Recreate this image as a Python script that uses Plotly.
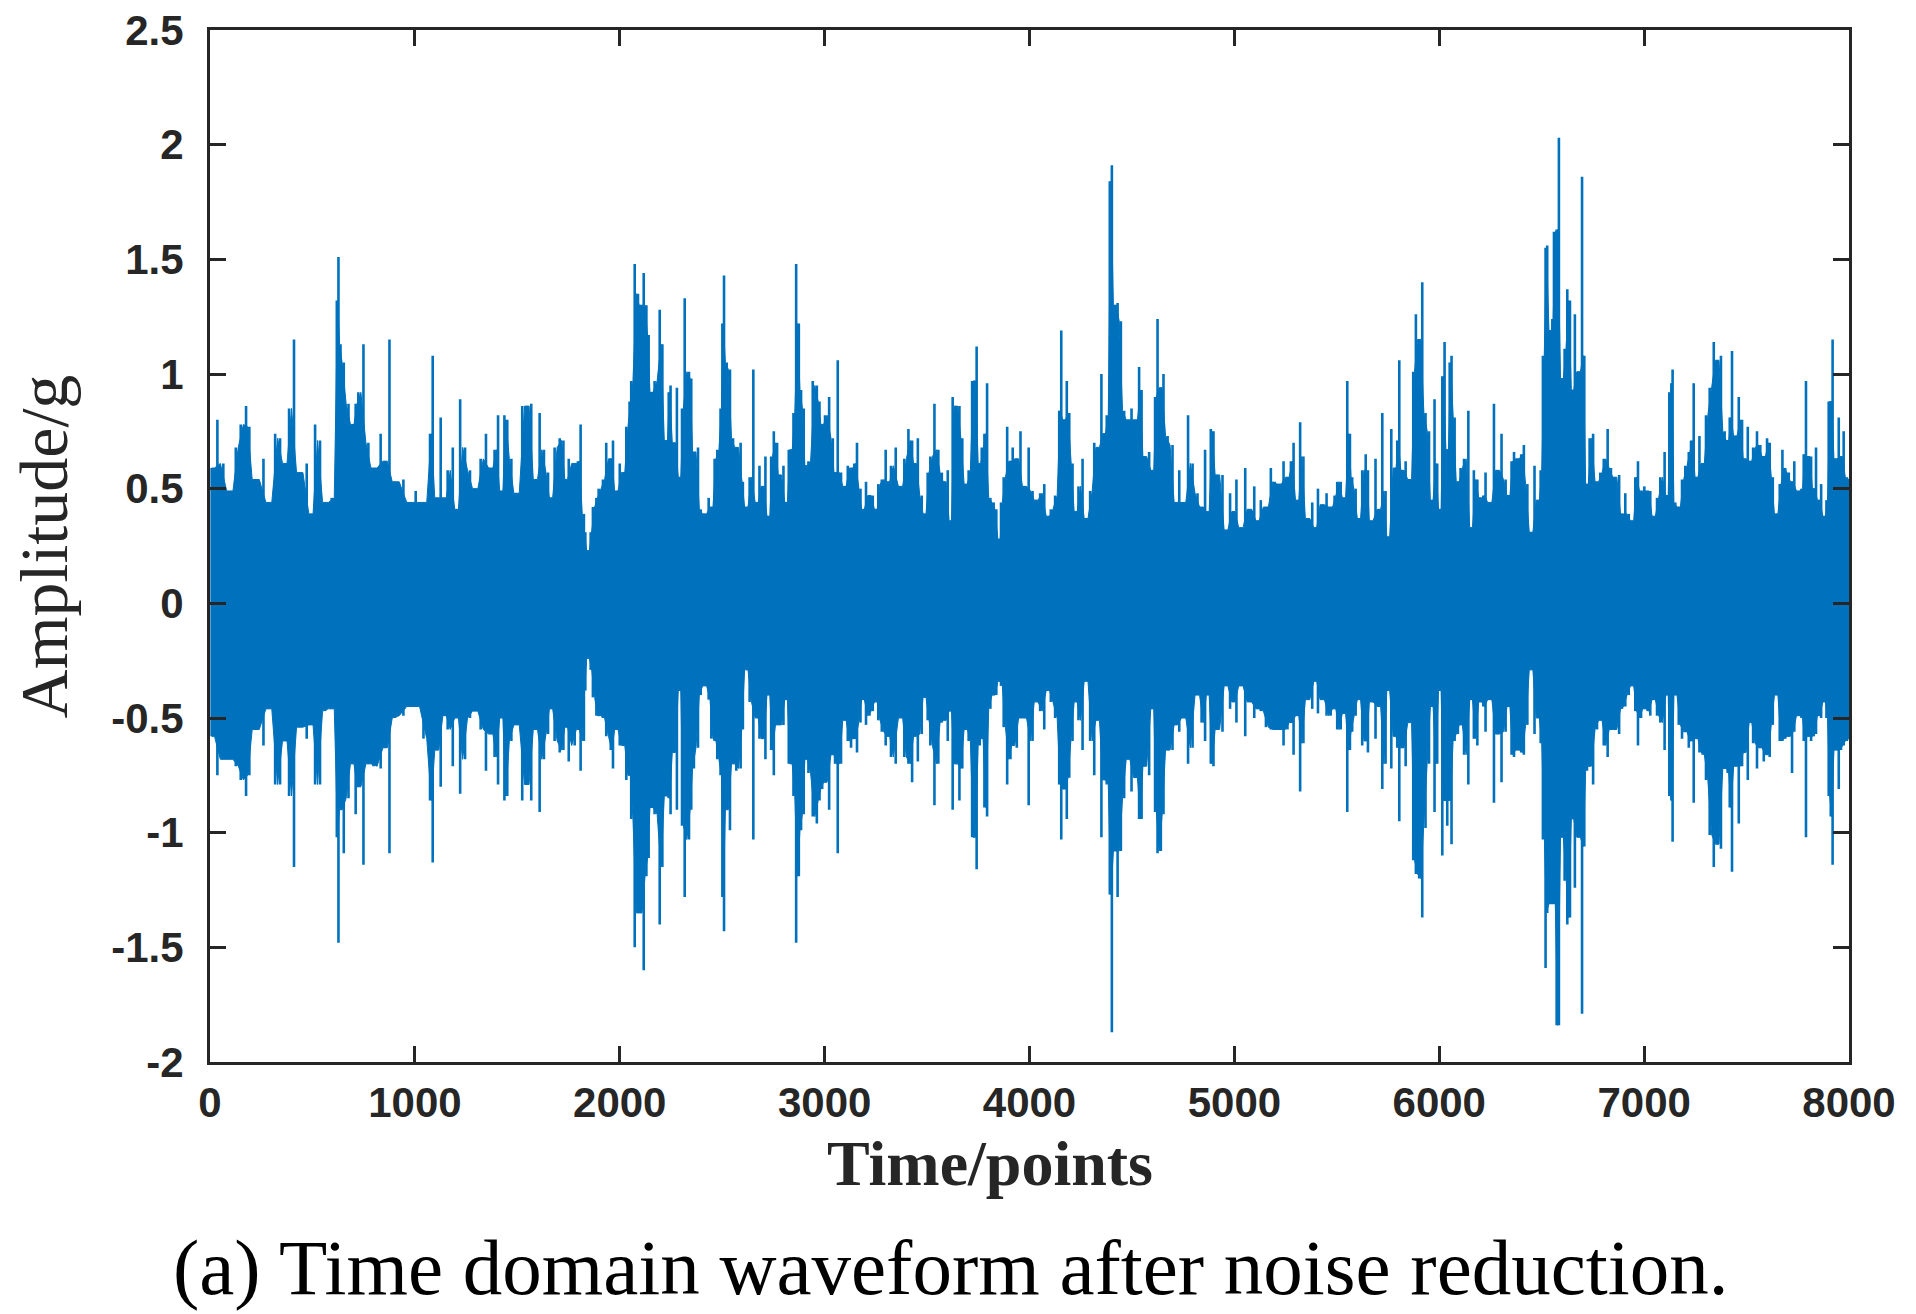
import plotly.graph_objects as go

# ---- data (sample index, upper peak, lower peak) ----
t_points = [
    8, 36, 65, 98, 126, 150, 176, 192, 220, 261, 285, 318, 342, 366, 386, 410, 435, 472, 493, 513,
    537, 562, 594, 619, 627, 637, 653, 676, 695, 711, 724, 749, 773, 798, 833, 855, 876, 903, 944, 977,
    1004, 1042, 1074, 1087, 1107, 1126, 1147, 1160, 1185, 1204, 1221, 1245, 1269, 1294,
    1321, 1347, 1373, 1389, 1406, 1422, 1437, 1451, 1471, 1495, 1524, 1547, 1568, 1588, 1609, 1630,
    1650, 1663, 1682, 1707, 1725, 1739, 1751, 1780, 1796, 1809, 1825, 1832, 1845, 1858, 1869, 1886,
    1897, 1918, 1934, 1956, 1967, 1983, 2000, 2017, 2032, 2048, 2056, 2073, 2089, 2100, 2117, 2130,
    2141, 2154, 2170, 2195, 2208, 2227, 2239, 2248, 2265, 2279, 2292, 2304, 2317, 2338, 2349, 2362,
    2382, 2395, 2414, 2434, 2447, 2463, 2476, 2492, 2501, 2509, 2522, 2538, 2553, 2569, 2590, 2601,
    2618, 2634, 2652,
    2670, 2682, 2698, 2711, 2726, 2739, 2752, 2768, 2779, 2799, 2812, 2825, 2836, 2848, 2861, 2874,
    2885, 2898, 2909, 2921, 2942, 2962, 2975, 2988, 3002, 3022, 3040, 3051, 3064, 3080, 3097, 3113,
    3129, 3145, 3158, 3175, 3186, 3202, 3219, 3235, 3251, 3262, 3279, 3298, 3311, 3324, 3347, 3373,
    3389, 3409, 3427, 3441, 3455, 3474, 3487, 3503, 3516, 3536, 3555, 3572, 3585, 3601, 3614, 3625,
    3640, 3658, 3672, 3690, 3703, 3720, 3731, 3742, 3757, 3767, 3780, 3793, 3809, 3825, 3838, 3853,
    3861, 3874, 3891, 3907, 3918, 3938, 3956, 3975, 3996,
    4015, 4031, 4052, 4072, 4091, 4104, 4125, 4145, 4155, 4169, 4182, 4194, 4210, 4226, 4239, 4259,
    4275, 4296, 4316, 4332, 4351, 4364, 4377, 4392, 4402, 4417, 4430, 4446, 4462, 4482, 4498, 4519,
    4535, 4547, 4560, 4584, 4600, 4613, 4625, 4641, 4654, 4674, 4698, 4714, 4731, 4752, 4774, 4796,
    4820, 4840, 4857, 4869, 4885, 4898, 4914, 4942, 4958, 4979, 4996, 5010, 5032, 5053, 5072, 5097,
    5113, 5129, 5154, 5178, 5197, 5219, 5240, 5259, 5276, 5289, 5308, 5321, 5337,
    5356, 5380, 5396, 5408, 5429, 5450, 5470, 5489, 5502, 5519, 5535, 5551, 5564, 5575, 5592, 5608,
    5624, 5641, 5652, 5665, 5689, 5706, 5722, 5738, 5750, 5766, 5784, 5795, 5805, 5820, 5836, 5857,
    5873, 5886, 5902, 5917, 5933, 5950, 5963, 5977, 5990, 6003, 6015, 6026, 6039, 6051, 6060, 6075,
    6091, 6104, 6121, 6142, 6156, 6169, 6186, 6199, 6215, 6226, 6247, 6267, 6283, 6304, 6324, 6337,
    6353, 6365, 6381, 6400, 6413, 6430, 6449, 6465, 6482, 6495, 6506, 6519, 6527, 6544, 6552, 6560,
    6573, 6584, 6600, 6612, 6625, 6638, 6651, 6662,
    6681, 6697, 6708, 6721, 6734, 6751, 6770, 6786, 6803, 6822, 6838, 6855, 6878, 6892, 6908, 6925,
    6941, 6957, 6970, 6985, 7001, 7017, 7030, 7047, 7063, 7079, 7100, 7112, 7123, 7133, 7139, 7152,
    7169, 7185, 7201, 7218, 7229, 7242, 7255, 7270, 7286, 7302, 7320, 7340, 7356, 7375, 7393, 7408,
    7418, 7429, 7445, 7462, 7478, 7489, 7506, 7519, 7532, 7551, 7567, 7584, 7600, 7613, 7628, 7644,
    7662, 7675, 7689, 7706, 7722, 7733, 7754, 7768, 7779, 7790, 7803, 7815, 7828, 7839, 7852, 7864,
    7880, 7890, 7901, 7911, 7920, 7933, 7950, 7961, 7974, 7990, 8000,
]

upper_env = [
    0.59, 0.80, 0.61, 0.49, 0.68, 0.78, 0.86, 0.77, 0.54, 0.63, 0.44, 0.74, 0.72, 0.61, 0.85, 1.15, 0.57, 0.61, 0.39, 0.78,
    0.71, 0.44, 0.46, 1.32, 1.51, 1.13, 1.05, 0.87, 0.78, 0.87, 0.92, 1.13, 0.70, 0.59, 0.74, 0.62, 1.15, 0.53, 0.54, 0.44,
    0.49, 0.44, 0.74, 1.08, 0.46, 0.81, 0.46, 0.58, 0.68, 0.41, 0.89, 0.68, 0.58, 0.50,
    0.63, 0.74, 0.59, 0.67, 0.82, 0.49, 0.82, 0.80, 0.63, 0.48, 0.86, 0.86, 0.87, 0.54, 0.83, 0.67,
    0.57, 0.46, 0.68, 0.72, 0.71, 0.54, 0.63, 0.61, 0.62, 0.78, 0.39, 0.31, 0.23, 0.31, 0.42, 0.46,
    0.50, 0.54, 0.70, 0.63, 0.71, 0.49, 0.61, 0.57, 0.77, 0.88, 0.97, 1.48, 1.35, 1.30, 1.44, 1.30,
    1.17, 0.92, 0.97, 1.28, 1.13, 0.71, 0.92, 0.95, 0.70, 0.94, 0.55, 0.85, 1.33, 1.01, 0.98, 0.66,
    0.68, 0.41, 0.39, 0.46, 0.42, 0.63, 0.67, 0.85, 1.22, 1.43, 1.05, 1.02, 0.72, 0.68, 0.70, 0.53,
    0.42, 0.55, 1.02,
    0.44, 0.60, 0.51, 0.64, 0.38, 0.64, 0.75, 0.70, 0.56, 0.60, 0.44, 0.67, 0.67, 0.83, 1.48, 1.22,
    0.93, 0.85, 0.60, 0.62, 0.97, 0.95, 0.88, 0.78, 0.82, 0.90, 0.72, 0.57, 1.06, 0.57, 0.51, 0.60,
    0.59, 0.61, 0.70, 0.50, 0.41, 0.53, 0.47, 0.47, 0.41, 0.52, 0.54, 0.67, 0.53, 0.60, 0.68, 0.51,
    0.63, 0.76, 0.71, 0.61, 0.72, 0.47, 0.39, 0.57, 0.64, 0.87, 0.67, 0.57, 0.53, 0.58, 0.36, 0.90,
    0.86, 0.86, 0.72, 0.52, 0.58, 0.97, 0.97, 1.12, 0.61, 0.68, 0.74, 0.96, 0.46, 0.44, 0.41, 0.28,
    0.44, 0.55, 0.77, 0.62, 0.68, 0.63, 0.75, 0.51, 0.68,
    0.49, 0.45, 0.48, 0.52, 0.38, 0.41, 0.47, 0.84, 1.19, 0.80, 0.97, 0.83, 0.61, 0.40, 0.51, 0.63,
    0.37, 0.49, 0.70, 0.68, 1.00, 0.74, 0.82, 1.84, 1.91, 1.30, 1.31, 1.23, 0.84, 0.80, 0.85, 0.80,
    1.03, 0.93, 0.64, 0.66, 0.58, 0.90, 1.24, 0.94, 1.00, 0.73, 0.69, 0.44, 0.58, 0.44, 0.82, 0.61,
    0.48, 0.42, 0.67, 0.40, 0.76, 0.75, 0.56, 0.56, 0.32, 0.48, 0.40, 0.54, 0.33, 0.59, 0.41, 0.51,
    0.36, 0.45, 0.42, 0.59, 0.53, 0.52, 0.62, 0.55, 0.62, 0.70, 0.45, 0.79, 0.64,
    0.37, 0.44, 0.33, 0.50, 0.43, 0.48, 0.42, 0.47, 0.53, 0.53, 0.46, 0.97, 0.74, 0.55, 0.50, 0.37,
    0.58, 0.65, 0.58, 0.36, 0.63, 0.41, 0.83, 0.49, 0.29, 0.76, 0.59, 0.71, 1.06, 0.58, 0.62, 0.54,
    1.01, 1.26, 1.15, 1.40, 0.83, 0.75, 0.45, 0.89, 0.61, 0.41, 0.99, 1.14, 0.67, 1.05, 1.08, 0.81,
    0.53, 0.59, 0.63, 0.84, 0.33, 0.58, 0.54, 0.46, 0.47, 0.57, 0.44, 0.87, 0.58, 0.74, 0.54, 0.47,
    0.62, 0.66, 0.63, 0.65, 0.69, 0.52, 0.31, 0.60, 0.45, 0.58, 1.08, 1.55, 1.56, 1.19, 1.24, 1.62,
    1.63, 2.03, 0.98, 1.11, 1.37, 1.32, 0.93, 1.26,
    1.01, 1.86, 1.08, 0.52, 0.72, 0.74, 0.53, 0.57, 0.63, 0.76, 0.59, 0.55, 0.56, 0.39, 0.48, 0.39,
    0.36, 0.55, 0.62, 0.49, 0.51, 0.49, 0.49, 0.38, 0.46, 0.55, 0.66, 0.47, 0.92, 0.96, 1.02, 0.44,
    0.42, 0.54, 0.60, 0.66, 0.71, 0.96, 0.55, 0.73, 0.61, 0.82, 0.94, 1.14, 1.06, 1.08, 0.75, 0.71,
    0.81, 1.10, 0.73, 0.90, 0.80, 0.63, 0.77, 0.62, 0.68, 0.75, 0.69, 0.64, 0.72, 0.70, 0.55, 0.39,
    0.52, 0.67, 0.59, 0.57, 0.53, 0.62, 0.49, 0.50, 0.65, 0.97, 0.64, 0.64, 0.50, 0.68, 0.45, 0.52,
    0.38, 0.45, 0.88, 0.88, 1.15, 0.63, 0.81, 0.64, 0.75, 0.55, 0.54,
]

lower_env = [
    -0.58, -0.75, -0.68, -0.68, -0.71, -0.77, -0.84, -0.75, -0.55, -0.62, -0.46, -0.79, -0.79, -0.60, -0.84, -1.15, -0.54, -0.59, -0.53, -0.79,
    -0.79, -0.47, -0.46, -1.02, -1.48, -0.90, -1.09, -0.85, -0.70, -0.92, -0.80, -1.14, -0.70, -0.71, -0.72, -0.63, -1.09, -0.50, -0.49, -0.45,
    -0.45, -0.59, -0.86, -1.13, -0.64, -0.80, -0.49, -0.55, -0.71, -0.50, -0.83, -0.68, -0.50, -0.47,
    -0.55, -0.73, -0.57, -0.67, -0.79, -0.50, -0.86, -0.84, -0.60, -0.53, -0.86, -0.79, -0.86, -0.55, -0.91, -0.68,
    -0.57, -0.46, -0.60, -0.65, -0.64, -0.54, -0.69, -0.62, -0.55, -0.73, -0.60, -0.38, -0.24, -0.29, -0.41, -0.49,
    -0.49, -0.50, -0.58, -0.64, -0.72, -0.55, -0.62, -0.62, -0.77, -0.75, -0.94, -1.50, -1.35, -1.35, -1.60, -1.19,
    -1.11, -0.89, -0.92, -1.40, -1.15, -0.84, -0.85, -0.92, -0.65, -0.90, -0.38, -0.97, -1.28, -1.03, -0.90, -0.72,
    -0.63, -0.40, -0.36, -0.42, -0.59, -0.60, -0.68, -0.75, -1.28, -1.43, -0.90, -0.99, -0.70, -0.73, -0.72, -0.55,
    -0.29, -0.43, -1.03,
    -0.50, -0.59, -0.59, -0.68, -0.40, -0.64, -0.75, -0.53, -0.53, -0.53, -0.42, -0.70, -0.70, -0.84, -1.48, -1.19,
    -0.99, -0.92, -0.68, -0.74, -0.93, -0.96, -0.86, -0.81, -0.78, -0.90, -0.66, -0.70, -1.09, -0.70, -0.51, -0.60,
    -0.63, -0.59, -0.65, -0.52, -0.42, -0.53, -0.49, -0.47, -0.43, -0.51, -0.56, -0.62, -0.58, -0.67, -0.70, -0.50,
    -0.67, -0.70, -0.78, -0.58, -0.69, -0.57, -0.41, -0.51, -0.62, -0.88, -0.70, -0.52, -0.51, -0.60, -0.47, -0.90,
    -0.70, -0.86, -0.72, -0.55, -0.60, -1.02, -1.02, -1.16, -0.62, -0.59, -0.89, -0.93, -0.46, -0.40, -0.40, -0.34,
    -0.36, -0.54, -0.79, -0.68, -0.62, -0.63, -0.50, -0.50, -0.88,
    -0.60, -0.43, -0.47, -0.55, -0.38, -0.43, -0.50, -0.79, -1.03, -0.81, -0.94, -0.76, -0.60, -0.43, -0.51, -0.64,
    -0.34, -0.60, -0.75, -0.51, -1.02, -0.77, -0.79, -1.27, -1.87, -1.08, -1.28, -1.08, -0.85, -0.68, -0.82, -0.76,
    -0.94, -0.94, -0.71, -0.75, -0.46, -0.91, -1.09, -1.08, -0.92, -0.64, -0.64, -0.53, -0.56, -0.50, -0.70, -0.63,
    -0.40, -0.52, -0.60, -0.40, -0.70, -0.71, -0.55, -0.56, -0.36, -0.46, -0.43, -0.52, -0.36, -0.58, -0.43, -0.50,
    -0.46, -0.47, -0.54, -0.55, -0.55, -0.55, -0.62, -0.55, -0.52, -0.66, -0.49, -0.82, -0.61,
    -0.42, -0.46, -0.34, -0.48, -0.42, -0.49, -0.49, -0.46, -0.55, -0.55, -0.48, -0.91, -0.64, -0.56, -0.49, -0.42,
    -0.62, -0.60, -0.65, -0.43, -0.59, -0.45, -0.81, -0.70, -0.38, -0.72, -0.58, -0.63, -0.95, -0.63, -0.71, -0.52,
    -1.12, -1.18, -1.20, -1.37, -0.98, -0.70, -0.45, -0.91, -0.70, -0.38, -1.10, -0.86, -0.97, -0.86, -1.05, -0.60,
    -0.57, -0.53, -0.66, -0.79, -0.42, -0.59, -0.62, -0.43, -0.45, -0.56, -0.42, -0.87, -0.57, -0.78, -0.56, -0.45,
    -0.66, -0.67, -0.64, -0.65, -0.66, -0.53, -0.29, -0.57, -0.50, -0.61, -1.03, -1.59, -1.35, -1.31, -1.31, -1.31,
    -1.84, -1.84, -1.02, -1.21, -1.40, -1.37, -0.94, -1.24,
    -1.02, -1.79, -1.06, -0.73, -0.71, -0.79, -0.55, -0.51, -0.62, -0.67, -0.55, -0.55, -0.57, -0.46, -0.45, -0.40,
    -0.36, -0.47, -0.62, -0.50, -0.46, -0.47, -0.49, -0.42, -0.49, -0.52, -0.64, -0.40, -0.84, -0.86, -1.04, -0.40,
    -0.53, -0.59, -0.56, -0.63, -0.60, -0.87, -0.59, -0.65, -0.66, -0.77, -1.01, -1.15, -1.05, -1.07, -0.72, -0.74,
    -0.89, -1.17, -0.71, -0.96, -0.71, -0.65, -0.77, -0.52, -0.61, -0.72, -0.63, -0.69, -0.66, -0.67, -0.53, -0.40,
    -0.60, -0.60, -0.59, -0.58, -0.74, -0.56, -0.49, -0.50, -0.60, -1.02, -0.58, -0.60, -0.58, -0.57, -0.49, -0.50,
    -0.43, -0.50, -0.84, -0.93, -1.14, -0.64, -0.81, -0.64, -0.62, -0.60, -0.59,
]

x_tick_vals = [0, 1000, 2000, 3000, 4000, 5000, 6000, 7000, 8000]
x_tick_text = ["0", "1000", "2000", "3000", "4000", "5000", "6000", "7000", "8000"]
y_tick_vals = [-2, -1.5, -1, -0.5, 0, 0.5, 1, 1.5, 2, 2.5]
y_tick_text = ["-2", "-1.5", "-1", "-0.5", "0", "0.5", "1", "1.5", "2", "2.5"]

BLUE = "#0072BD"
AX = "#262626"

n = len(t_points)
assert n == len(upper_env) == len(lower_env)

# dense core band: between neighbouring peaks the signal fills the band up to the smaller peak
core_x = [t_points[0]]
core_up = [min(upper_env[0], upper_env[1])]
core_lo = [max(lower_env[0], lower_env[1])]
for i in range(n - 1):
    core_x.append((t_points[i] + t_points[i + 1]) / 2)
    core_up.append(min(upper_env[i], upper_env[i + 1]))
    core_lo.append(max(lower_env[i], lower_env[i + 1]))
core_x.append(t_points[-1])
core_up.append(min(upper_env[-1], upper_env[-2]))
core_lo.append(max(lower_env[-1], lower_env[-2]))

poly_x = core_x + core_x[::-1]
poly_y = core_up + core_lo[::-1]

# individual oscillation spikes
spike_x, spike_y = [], []
for t, u, l in zip(t_points, upper_env, lower_env):
    spike_x += [t, t, None]
    spike_y += [u, l, None]

fig = go.Figure()
fig.add_trace(go.Scatter(x=poly_x, y=poly_y, fill="toself", fillcolor=BLUE,
                         mode="lines", line=dict(color=BLUE, width=1),
                         hoverinfo="skip", showlegend=False))
fig.add_trace(go.Scatter(x=spike_x, y=spike_y, mode="lines",
                         line=dict(color=BLUE, width=2.6),
                         hoverinfo="skip", showlegend=False))

tick_font = dict(family="Liberation Sans, Arial, sans-serif", size=42, color=AX, weight="bold")

fig.update_layout(
    width=1916, height=1314,
    margin=dict(l=210, r=67, t=30, b=252, autoexpand=False),
    paper_bgcolor="white", plot_bgcolor="white",
    showlegend=False,
    xaxis=dict(range=[0, 8000], tickvals=x_tick_vals, ticktext=x_tick_text,
               ticks="inside", ticklen=16, tickwidth=3, tickcolor=AX,
               showline=True, linewidth=3, linecolor=AX, mirror="ticks",
               showgrid=False, zeroline=False, tickfont=tick_font,
               ticklabelstandoff=2, automargin=False),
    yaxis=dict(range=[-2, 2.5], tickvals=y_tick_vals, ticktext=y_tick_text,
               ticks="inside", ticklen=16, tickwidth=3, tickcolor=AX,
               showline=True, linewidth=3, linecolor=AX, mirror="ticks",
               showgrid=False, zeroline=False, tickfont=tick_font,
               ticklabelstandoff=15, automargin=False),
    annotations=[
        dict(text="<b>Time/points</b>", xref="paper", yref="paper", x=0.476, y=-0.0985,
             xanchor="center", yanchor="middle", showarrow=False,
             font=dict(family="Liberation Serif, Times New Roman, serif", size=64, color=AX)),
        dict(text="Amplitude/g", xref="paper", yref="paper", x=-0.101, y=0.500,
             xanchor="center", yanchor="middle", showarrow=False, textangle=-90,
             font=dict(family="Liberation Serif, Times New Roman, serif", size=68, color=AX)),
        dict(text="(a) Time domain waveform after noise reduction.", xref="paper", yref="paper",
             x=0.4515, y=-0.1996, xanchor="center", yanchor="middle", showarrow=False,
             font=dict(family="Liberation Serif, Times New Roman, serif", size=79, color="black")),
    ],
)

fig.write_html("out.html", config={"displayModeBar": False},
               post_script="document.body.style.margin='0';")
